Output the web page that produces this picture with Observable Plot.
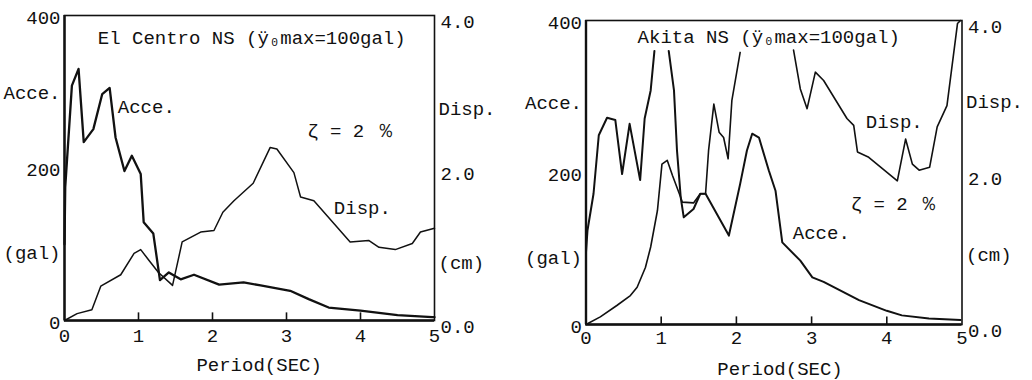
<!DOCTYPE html>
<html>
<head>
<meta charset="utf-8">
<script src="https://cdn.jsdelivr.net/npm/d3@7"></script>
<script src="https://cdn.jsdelivr.net/npm/@observablehq/plot@0.6"></script>
<style>
  html, body { margin: 0; padding: 0; background: #fff; }
  #wrap { display: flex; width: 1032px; height: 380px; }
</style>
</head>
<body>
<div id="wrap"></div>
<script>
// ---------------- DATA ----------------
// El Centro NS: acceleration response (gal) vs period (s)
const ecAccT = [0, 0.01, 0.10, 0.19, 0.26, 0.39, 0.51, 0.61, 0.69, 0.81, 0.91, 1.03, 1.07, 1.20, 1.29, 1.41, 1.48, 1.57, 1.75, 2.09, 2.42, 2.65, 3.05, 3.30, 3.57, 4.00, 4.50, 4.97, 5.00];
const ecAcc  = [100, 175, 308, 330, 234, 251, 297, 305, 240, 196, 216, 192, 129, 114, 53, 63, 59, 54, 60, 47, 50, 46, 39, 28, 17, 13, 7, 4.4, 4.3];
// El Centro NS: displacement response (cm)
const ecDispT = [0, 0.17, 0.37, 0.49, 0.76, 0.94, 1.03, 1.14, 1.27, 1.46, 1.59, 1.84, 2.02, 2.14, 2.29, 2.55, 2.78, 2.87, 3.10, 3.19, 3.37, 3.86, 4.11, 4.25, 4.47, 4.70, 4.81, 5.00];
const ecDisp  = [0, 0.09, 0.14, 0.45, 0.60, 0.88, 0.93, 0.79, 0.63, 0.46, 1.03, 1.16, 1.18, 1.42, 1.57, 1.80, 2.27, 2.25, 1.94, 1.62, 1.57, 1.03, 1.05, 0.96, 0.93, 1.01, 1.16, 1.21];

// Akita NS: acceleration response (gal); null = off the top of the chart
const akAccT = [0, 0.02, 0.10, 0.17, 0.28, 0.39, 0.48, 0.58, 0.72, 0.78, 0.86, 0.91, 1.00, 1.10, 1.17, 1.21, 1.26, 1.30, 1.43, 1.52, 1.59, 1.90, 2.05, 2.14, 2.21, 2.30, 2.43, 2.52, 2.61, 2.85, 3.01, 3.16, 3.63, 4.00, 4.20, 4.56, 4.98];
const akAcc  = [95, 124, 172, 249, 272, 269, 198, 264, 190, 271, 308, 360, null, 360, 308, 229, 167, 141, 152, 172, 172, 117, 185, 229, 251, 246, 203, 176, 108, 84, 62, 56, 32, 18, 12, 8, 6];
// Akita NS: displacement response (cm); null = off the top of the chart
const akDispT = [0, 0.19, 0.41, 0.59, 0.68, 0.79, 0.86, 0.95, 1.01, 1.08, 1.15, 1.26, 1.28, 1.43, 1.52, 1.59, 1.63, 1.70, 1.77, 1.83, 1.89, 1.94, 2.05, 2.40, 2.76, 2.85, 2.94, 3.05, 3.16, 3.47, 3.56, 3.61, 3.76, 4.14, 4.25, 4.34, 4.43, 4.57, 4.67, 4.80, 4.94, 4.98];
const akDisp  = [0, 0.10, 0.25, 0.38, 0.49, 0.75, 1.02, 1.50, 2.11, 2.16, 1.96, 1.67, 1.61, 1.60, 1.72, 1.72, 2.29, 2.90, 2.53, 2.46, 2.18, 2.95, 3.58, null, 3.61, 3.10, 2.84, 3.32, 3.21, 2.71, 2.62, 2.27, 2.20, 1.89, 2.44, 2.11, 2.03, 2.07, 2.60, 2.88, 3.96, 4.00];

// tick labels
const xTickVals = [0, 1, 2, 3, 4, 5];
const xInnerTicks = [1, 2, 3, 4];
const accTicks = [0, 200, 400];          // gal
const dispTicks = [0, 2, 4];             // cm
const ecTitle = "El Centro NS (ÿ₀max=100gal)";
const akTitle = "Akita NS (ÿ₀max=100gal)";
const dampText = "ζ = 2 ％";
const xLabel = "Period(SEC)";

// ---------------- DRAW ----------------
const ink = "#111";
const FONT = "Liberation Mono, DejaVu Sans Mono, monospace";
const fs = 19;
const CM = 100; // 1 cm on the right axis = 100 gal on the left axis

function toRows(T, V, k = 1) {
  return T.map((t, i) => ({T: t, v: V[i] == null ? NaN : V[i] * k}));
}

function chart(o) {
  const acc = toRows(o.accT, o.acc);
  const disp = toRows(o.dispT, o.disp, CM);
  const txt = (data, opts) => Plot.text(data, {fontSize: fs, fill: ink, ...opts});
  return Plot.plot({
    width: 516,
    height: 380,
    marginLeft: o.ml, marginRight: o.mr, marginTop: o.mt, marginBottom: o.mb,
    x: {domain: [0, 5], axis: null},
    y: {domain: [0, 400], axis: null},
    style: {fontFamily: FONT, fontSize: fs + "px", background: "#fff", color: ink},
    marks: [
      Plot.frame({stroke: ink, strokeWidth: 1.6}),
      Plot.ruleY([0], {stroke: ink, strokeWidth: 2.6}),
      Plot.ruleX([0], {stroke: ink, strokeWidth: 2.4}),
      Plot.ruleX(xInnerTicks, {y1: 0, y2: 10, stroke: ink, strokeWidth: 1.6}),
      Plot.line(disp, {x: "T", y: "v", stroke: ink, strokeWidth: o.dw, strokeLinejoin: "round"}),
      Plot.line(acc, {x: "T", y: "v", stroke: ink, strokeWidth: o.aw, strokeLinejoin: "round"}),
      // x tick labels
      txt(xTickVals, {x: d => d, y: 0, dy: o.xdy, text: d => String(d), textAnchor: "middle"}),
      // left tick labels
      txt(accTicks, {x: 0, y: d => d, dx: -4, dy: 2, text: d => String(d), textAnchor: "end"}),
      // right tick labels
      txt(dispTicks, {x: 5, y: d => d * CM, dx: 6, dy: 6, text: d => d.toFixed(1), textAnchor: "start"}),
      // axis titles
      txt([o.leftA], {x: 0, y: d => d, dx: -4, text: () => "Acce.", textAnchor: "end"}),
      txt([o.leftU], {x: 0, y: d => d, dx: -4, text: () => "(gal)", textAnchor: "end"}),
      txt([o.rightD], {x: 5, y: d => d, dx: 4, text: () => "Disp.", textAnchor: "start"}),
      txt([o.rightU], {x: 5, y: d => d, dx: 4, text: () => "(cm)", textAnchor: "start"}),
      txt([xLabel], {x: o.xlabX, y: 0, dy: 44, text: d => d, textAnchor: "middle"}),
      // inside annotations
      txt([o.title], {x: o.titleX, y: o.titleY, text: d => d, textAnchor: "middle"}),
      txt(["Acce."], {x: o.accLab[0], y: o.accLab[1], text: d => d, textAnchor: "start"}),
      txt(["Disp."], {x: o.dispLab[0], y: o.dispLab[1], text: d => d, textAnchor: "start"}),
      txt([dampText], {x: o.dampLab[0], y: o.dampLab[1], text: d => d, textAnchor: "start"})
    ]
  });
}

const wrap = document.getElementById("wrap");
wrap.append(chart({
  accT: ecAccT, acc: ecAcc, dispT: ecDispT, disp: ecDisp,
  ml: 64, mr: 82, mt: 15, mb: 60, aw: 2.3, dw: 1.5, xdy: 15,
  leftA: 298, leftU: 88, rightD: 278, rightU: 75, xlabX: 2.63,
  title: ecTitle, titleX: 2.53, titleY: 370,
  accLab: [0.72, 280], dispLab: [3.64, 148], dampLab: [3.28, 249]
}));
wrap.append(chart({
  accT: akAccT, acc: akAcc, dispT: akDispT, disp: akDisp,
  ml: 69.5, mr: 70.5, mt: 20, mb: 56, aw: 2.0, dw: 1.6, xdy: 13,
  leftA: 291, leftU: 88, rightD: 293, rightU: 92, xlabX: 2.58,
  title: akTitle, titleX: 2.43, titleY: 378,
  accLab: [2.75, 120], dispLab: [3.72, 267], dampLab: [3.52, 159]
}));
</script>
</body>
</html>
